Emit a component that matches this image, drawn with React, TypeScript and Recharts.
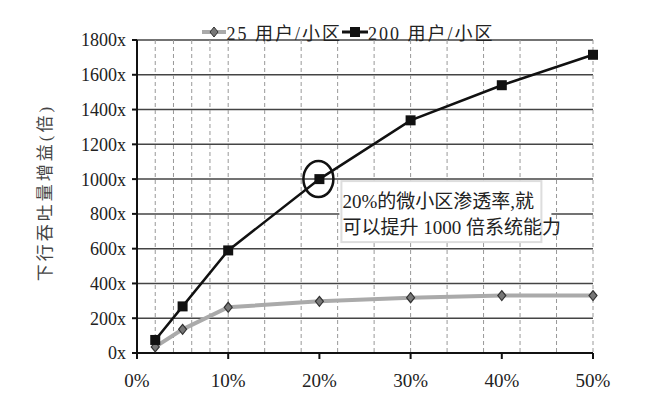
import React from 'react';
import {
  LineChart,
  Line,
  XAxis,
  YAxis,
  CartesianGrid,
  Legend,
  ReferenceDot,
} from 'recharts';

// penetration of small cells (%)
const penetration = [2, 5, 10, 20, 30, 40, 50];
const users25 = [35, 136, 263, 297, 318, 330, 330];
const users200 = [75, 268, 590, 1000, 1338, 1540, 1715];

const seriesNames = ['25 用户/小区', '200 用户/小区'];
const xLabelTicks = [0, 10, 20, 30, 40, 50];
const xGridTicks = [0, 2, 4, 6, 8, 10, 12, 14, 16, 18, 20, 22, 24, 26, 28, 30, 32, 34, 36, 38, 40, 42, 44, 46, 48, 50];
const yTicks = [0, 200, 400, 600, 800, 1000, 1200, 1400, 1600, 1800];
const yTitle = '下行吞吐量增益(倍)';
const noteLines = ['20%的微小区渗透率,就', '可以提升 1000 倍系统能力'];

const data = penetration.map((p, i) => ({ p, a: users25[i], b: users200[i] }));

const FONT = '"Liberation Serif", "DejaVu Serif", "Noto Sans CJK SC", serif';

const Diamond = (props: any) => {
  const { cx, cy } = props;
  if (cx == null || cy == null) return null;
  return (
    <path
      d={`M${cx},${cy - 5} L${cx + 4},${cy} L${cx},${cy + 5} L${cx - 4},${cy} Z`}
      fill="#777"
      stroke="#333"
      strokeWidth={1.2}
    />
  );
};

const Square = (props: any) => {
  const { cx, cy } = props;
  if (cx == null || cy == null) return null;
  return <rect x={cx - 5} y={cy - 5} width={10} height={10} fill="#111" />;
};

const LegendContent = () => (
  <div
    style={{
      display: 'flex',
      justifyContent: 'center',
      paddingLeft: 104,
      fontFamily: FONT,
      fontSize: 18,
      letterSpacing: 2,
      color: '#222',
    }}
  >
    <span style={{ display: 'flex', alignItems: 'center' }}>
      <svg width={24} height={14}>
        <line x1={0} y1={7} x2={24} y2={7} stroke="#aaa" strokeWidth={4} />
        <path d="M12,2 L16,7 L12,12 L8,7 Z" fill="#777" stroke="#333" />
      </svg>
      {seriesNames[0]}
    </span>
    <span style={{ display: 'flex', alignItems: 'center' }}>
      <svg width={26} height={14}>
        <line x1={0} y1={7} x2={26} y2={7} stroke="#111" strokeWidth={3} />
        <rect x={8} y={2} width={10} height={10} fill="#111" />
      </svg>
      {seriesNames[1]}
    </span>
  </div>
);

const Note = (props: any) => {
  const { cx, cy } = props;
  if (cx == null || cy == null) return null;
  return (
    <g>
      <ellipse cx={cx - 1} cy={cy} rx={15} ry={18} fill="none" stroke="#111" strokeWidth={2.5} />
      <rect x={cx + 20} y={cy + 2} width={212} height={60} fill="#fff" />
      <rect x={cx + 22} y={cy + 2} width={200} height={61} fill="none" stroke="#ddd" strokeWidth={2} />
      {noteLines.map((t, i) => (
        <text key={i} x={cx + 23} y={cy + 29 + i * 26} fontFamily={FONT} fontSize={19} fill="#222">
          {t}
        </text>
      ))}
    </g>
  );
};

export default function App() {
  return (
    <div style={{ position: 'absolute', left: 0, top: 0, background: '#fff' }}>
      <LineChart width={666} height={402} data={data} margin={{ top: 16, right: 73, bottom: 0, left: 0 }}>
        <CartesianGrid vertical={false} stroke="#444" strokeWidth={1.5} />
        <CartesianGrid horizontal={false} xAxisId="grid" stroke="#999" strokeDasharray="4 3" />
        <XAxis
          dataKey="p"
          type="number"
          domain={[0, 50]}
          ticks={xLabelTicks}
          tickFormatter={(v) => `${v}%`}
          axisLine={{ stroke: '#111', strokeWidth: 2 }}
          tickLine={{ stroke: '#111', strokeWidth: 2 }}
          tickSize={6}
          tickMargin={15}
          tick={{ fontFamily: FONT, fontSize: 19, fill: '#222' }}
          height={49}
        />
        <XAxis xAxisId="grid" dataKey="p" type="number" domain={[0, 50]} ticks={xGridTicks} hide />
        <YAxis
          type="number"
          domain={[0, 1800]}
          ticks={yTicks}
          tickFormatter={(v) => `${v}x`}
          axisLine={{ stroke: '#111', strokeWidth: 2 }}
          tickLine={{ stroke: '#111', strokeWidth: 2 }}
          tickSize={5}
          tickMargin={6}
          tick={{ fontFamily: FONT, fontSize: 18, fill: '#222' }}
          width={137}
          label={{
            value: yTitle,
            angle: -90,
            position: 'insideLeft',
            dx: 40,
            dy: -4,
            style: { fontFamily: FONT, fontSize: 17, fill: '#444', textAnchor: 'middle', letterSpacing: 3 },
          }}
        />
        <Legend verticalAlign="top" height={24} content={<LegendContent />} wrapperStyle={{ top: 19 }} />
        <Line
          dataKey="a"
          name={seriesNames[0]}
          stroke="#aaa"
          strokeWidth={4}
          dot={<Diamond />}
          activeDot={false}
          isAnimationActive={false}
        />
        <Line
          dataKey="b"
          name={seriesNames[1]}
          stroke="#111"
          strokeWidth={2.5}
          dot={<Square />}
          activeDot={false}
          isAnimationActive={false}
        />
        <ReferenceDot x={penetration[3]} y={users200[3]} r={0} shape={<Note />} />
      </LineChart>
    </div>
  );
}
